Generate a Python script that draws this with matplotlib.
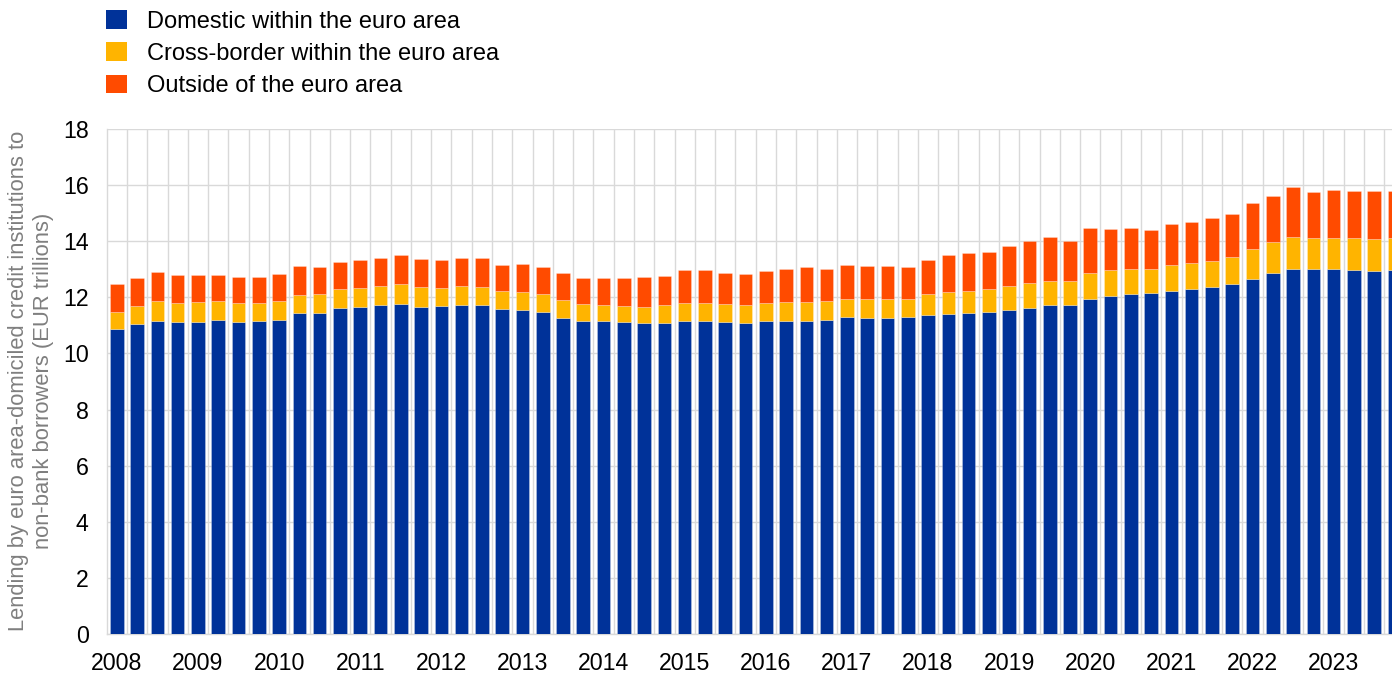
import numpy as np
import matplotlib
matplotlib.use("Agg")
import matplotlib.pyplot as plt

plt.rcParams['font.family'] = ['Liberation Sans', 'DejaVu Sans']

years = list(range(2008, 2024))
quarters = [f"{y}Q{q}" for y in years for q in range(1, 5)]

domestic = [10.87, 11.04, 11.15, 11.13, 11.13, 11.18, 11.11, 11.15,
            11.20, 11.43, 11.45, 11.62, 11.65, 11.74, 11.77, 11.65,
            11.68, 11.74, 11.73, 11.58, 11.55, 11.46, 11.26, 11.15,
            11.14, 11.11, 11.07, 11.07, 11.15, 11.15, 11.11, 11.10,
            11.14, 11.14, 11.14, 11.19, 11.30, 11.27, 11.27, 11.31,
            11.38, 11.42, 11.44, 11.46, 11.56, 11.63, 11.71, 11.71,
            11.94, 12.06, 12.13, 12.14, 12.24, 12.31, 12.36, 12.46,
            12.65, 12.87, 13.02, 13.01, 13.01, 12.97, 12.94, 12.97]
cross_border = [0.59, 0.65, 0.71, 0.67, 0.69, 0.69, 0.69, 0.65,
                0.67, 0.66, 0.67, 0.68, 0.69, 0.67, 0.70, 0.73,
                0.65, 0.66, 0.65, 0.64, 0.64, 0.66, 0.63, 0.61,
                0.60, 0.59, 0.59, 0.64, 0.65, 0.65, 0.64, 0.62,
                0.66, 0.68, 0.69, 0.68, 0.65, 0.67, 0.66, 0.64,
                0.74, 0.77, 0.78, 0.82, 0.84, 0.87, 0.87, 0.87,
                0.93, 0.90, 0.88, 0.88, 0.91, 0.91, 0.94, 0.99,
                1.07, 1.09, 1.14, 1.10, 1.10, 1.13, 1.15, 1.13]
outside = [1.01, 1.01, 1.05, 0.98, 0.96, 0.94, 0.91, 0.91,
           0.96, 1.02, 0.95, 0.96, 0.98, 1.00, 1.04, 0.97,
           1.00, 1.01, 1.02, 0.94, 1.00, 0.96, 0.96, 0.94,
           0.96, 0.98, 1.05, 1.04, 1.17, 1.16, 1.10, 1.10,
           1.15, 1.19, 1.24, 1.14, 1.21, 1.17, 1.18, 1.13,
           1.20, 1.33, 1.35, 1.32, 1.44, 1.51, 1.58, 1.42,
           1.61, 1.47, 1.45, 1.38, 1.45, 1.45, 1.51, 1.51,
           1.64, 1.66, 1.76, 1.63, 1.72, 1.68, 1.70, 1.68]

series_names = ["Domestic within the euro area",
                "Cross-border within the euro area",
                "Outside of the euro area"]
colors = ["#003299", "#FFB400", "#FF4B00"]
ylabel = "Lending by euro area-domiciled credit institutions to\nnon-bank borrowers (EUR trillions)"

W, H = 1392, 674
fig = plt.figure(figsize=(W / 100, H / 100), dpi=100)
ax_left, ax_right_px, ax_top, ax_bottom = 106.7, 1392, 129, 634
ax = fig.add_axes([ax_left / W, (H - ax_bottom) / H,
                   (ax_right_px - ax_left) / W, (ax_bottom - ax_top) / H])

x = np.arange(len(quarters))
dom = np.array(domestic)
cb = np.array(cross_border)
out = np.array(outside)
bw = 0.67
ax.bar(x, dom, width=bw, color=colors[0], label=series_names[0], zorder=3,
       edgecolor=(1, 1, 1, 0.35), linewidth=0.5)
ax.bar(x, cb, width=bw, bottom=dom, color=colors[1], label=series_names[1], zorder=3,
       edgecolor=(1, 1, 1, 0.35), linewidth=0.5)
ax.bar(x, out, width=bw, bottom=dom + cb, color=colors[2], label=series_names[2], zorder=3,
       edgecolor=(1, 1, 1, 0.35), linewidth=0.5)

bar_px = 20.28
ax.set_xlim(-0.5, -0.5 + (ax_right_px - ax_left) / bar_px)
ax.set_ylim(0, 18)
ax.set_yticks(np.arange(0, 19, 2))
ax.set_xticks(x[::4])
ax.set_xticklabels([str(y) for y in years])
ax.set_xticks(x[:-1] + 0.5, minor=True)

ax.grid(axis='y', which='major', color='#d9d9d9', linewidth=1.0, zorder=0)
ax.grid(axis='x', which='minor', color='#d9d9d9', linewidth=1.0, zorder=0)
ax.grid(axis='x', which='major', visible=False)
ax.set_axisbelow(True)

ax.tick_params(axis='both', which='both', length=0, labelsize=16.7)
ax.tick_params(axis='y', pad=13)
ax.tick_params(axis='x', pad=13)
for s in ['top', 'right']:
    ax.spines[s].set_visible(False)
for s in ['left', 'bottom']:
    ax.spines[s].set_color('#d9d9d9')
    ax.spines[s].set_linewidth(1.0)

fig.text(31 / W, (H - 381) / H, ylabel, rotation=90, ha='center', va='center',
         fontsize=15.8, color='#7f7f7f', linespacing=1.2)

handles, labels = ax.get_legend_handles_labels()
leg = fig.legend(handles, labels, loc='upper left', bbox_to_anchor=(97 / W, 1 - 1 / H),
                 frameon=False, fontsize=17, handlelength=0.85, handleheight=0.85,
                 handletextpad=0.85, labelspacing=0.4, borderaxespad=0, borderpad=0.4)
for p in leg.get_patches():
    p.set_edgecolor('none')

fig.savefig("out.png", dpi=100)
